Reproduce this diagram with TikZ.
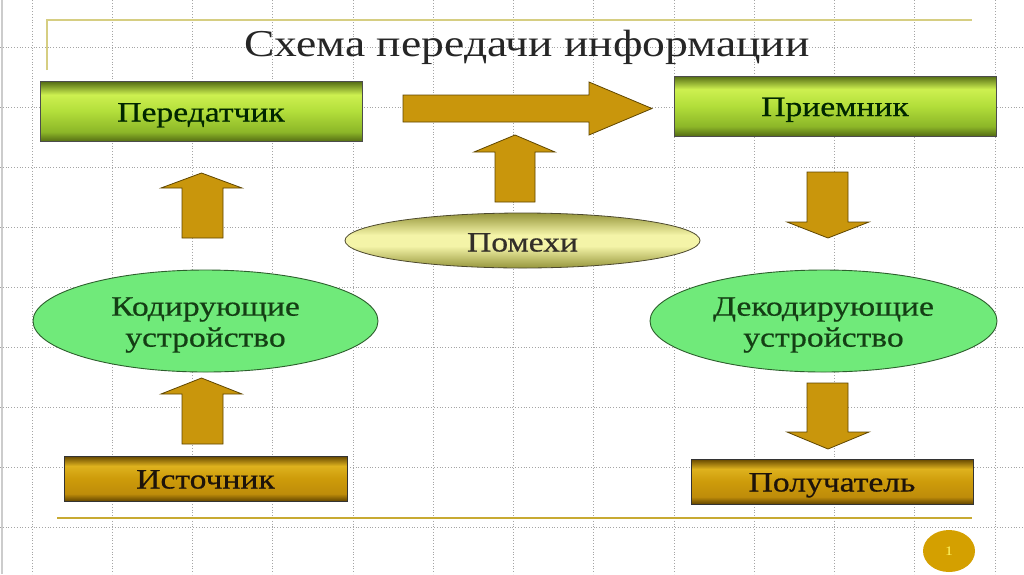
\documentclass[tikz,border=0pt]{standalone}
\usepackage{fontspec}
\setmainfont{Liberation Serif}[FakeStretch=1.2]
\newfontfamily\labelfam{Liberation Serif}[FakeStretch=1.2, FakeBold=0.6]
\usetikzlibrary{shapes.geometric}
\definecolor{gA}{RGB}{84,108,20}
\definecolor{gB}{RGB}{140,182,40}
\definecolor{gC}{RGB}{178,222,58}
\definecolor{gD}{RGB}{205,240,80}
\definecolor{oA}{RGB}{100,70,0}
\definecolor{oB}{RGB}{190,140,10}
\definecolor{oC}{RGB}{205,155,10}
\definecolor{oD}{RGB}{222,178,30}
\definecolor{arrowfill}{RGB}{201,150,12}
\definecolor{arrowdraw}{RGB}{95,70,0}
\definecolor{ellgreen}{RGB}{112,234,122}
\definecolor{ellborder}{RGB}{45,95,45}
\definecolor{elltext}{RGB}{20,62,20}
\definecolor{noiseA}{RGB}{150,150,60}
\definecolor{noiseB}{RGB}{244,244,168}
\definecolor{gridcol}{RGB}{165,165,165}
\definecolor{topline}{RGB}{214,206,130}
\definecolor{botline}{RGB}{200,170,50}
\definecolor{coin}{RGB}{212,160,0}
\pgfdeclareverticalshading{limebar}{100bp}{color(0bp)=(gA); color(25bp)=(gA); color(33bp)=(gB); color(50bp)=(gC); color(64bp)=(gD); color(75bp)=(gA); color(100bp)=(gA)}
\pgfdeclareverticalshading{goldbar}{100bp}{color(0bp)=(oA); color(25bp)=(oA); color(33bp)=(oB); color(50bp)=(oC); color(64bp)=(oD); color(75bp)=(oA); color(100bp)=(oA)}
\pgfdeclareverticalshading{noisebar}{100bp}{color(0bp)=(noiseA); color(25bp)=(noiseA); color(45bp)=(noiseB); color(55bp)=(noiseB); color(75bp)=(noiseA); color(100bp)=(noiseA)}
\tikzset{
  gridline/.style={gridcol, dotted, line width=0.8pt},
  labelfont/.style={font=\labelfam\fontsize{28}{32}\selectfont},
  limebox/.style={rectangle, draw=black!70, line width=0.8pt, shading=limebar, inner sep=0pt, text=black!85!green, labelfont, text height=20pt, text depth=0pt},
  goldbox/.style={rectangle, draw=black!80, line width=0.8pt, shading=goldbar, inner sep=0pt, text=black!85!brown, labelfont, text height=20pt, text depth=0pt},
  greenell/.style={ellipse, draw=ellborder, line width=0.9pt, fill=ellgreen, inner sep=0pt},
  elllabel/.style={align=center, text=elltext, labelfont, inner sep=0pt},
  noiseell/.style={ellipse, draw=black!60!olive, line width=0.8pt, shading=noisebar, inner sep=0pt, text=black!85!olive, labelfont, text height=22pt, text depth=0pt},
  blockarrow/.style={fill=arrowfill, draw=arrowdraw, line width=0.8pt, line join=miter}
}
\begin{document}
\begin{tikzpicture}[x=1pt,y=-1pt]
\useasboundingbox (0,0) rectangle (1024,574);
\fill[white] (0,0) rectangle (1024,574);
% grid
\foreach \k in {0,...,12} {
  \draw[gridline] ({32+80.25*\k},0) -- ({32+80.25*\k},574);
}
\foreach \k in {0,...,8} {
  \draw[gridline] (0,{47+60.1*\k}) -- (1024,{47+60.1*\k});
}
\draw[gray!40, line width=2.5pt] (2,0) -- (2,574);
% decorative lines
\draw[topline, line width=2pt] (47,70) -- (47,20) -- (972,20);
\draw[botline, line width=2pt] (57,518) -- (972,518);
% title
\node[anchor=base, font=\fontsize{38}{44}\selectfont, text=black!85] (title) at (527,56) {Схема передачи информации};
% boxes
\node[limebox, minimum width=322pt, minimum height=60pt] (tx) at (201,111.5) {Передатчик};
\node[limebox, minimum width=322pt, minimum height=60pt] (rx) at (835,106) {Приемник};
\node[goldbox, minimum width=283pt, minimum height=45pt] (src) at (205.5,478.5) {Источник};
\node[goldbox, minimum width=282pt, minimum height=45pt] (dst) at (832,481.5) {Получатель};
% ellipses
\node[greenell, minimum width=345pt, minimum height=102pt] (enc) at (205.5,321) {};
\node[elllabel] (enctext) at ([yshift=-4pt]enc.center) {Кодирующие\\[-1pt]устройство};
\node[greenell, minimum width=347pt, minimum height=102pt] (dec) at (823.5,321) {};
\node[elllabel] (dectext) at ([yshift=-4pt]dec.center) {Декодирующие\\[-1pt]устройство};
\node[noiseell, minimum width=355pt, minimum height=55pt] (noise) at (522.5,240.5) {Помехи};
% block arrows
\draw[blockarrow] (403,95) -- (589,95) -- (589,82) -- (652,108.5) -- (589,135) -- (589,122) -- (403,122) -- cycle;
\draw[blockarrow] (495,202) -- (495,152) -- (474,152) -- (515,135) -- (555,152) -- (535,152) -- (535,202) -- cycle;
\draw[blockarrow] (182,238) -- (182,188) -- (161,188) -- (201.5,173) -- (242,188) -- (223,188) -- (223,238) -- cycle;
\draw[blockarrow] (182,444) -- (182,394) -- (161,394) -- (201.5,378) -- (242,394) -- (223,394) -- (223,444) -- cycle;
\draw[blockarrow] (807,172) -- (848,172) -- (848,222) -- (869,222) -- (828,238) -- (787,222) -- (807,222) -- cycle;
\draw[blockarrow] (807,383) -- (848,383) -- (848,432) -- (869,432) -- (828,449) -- (787,432) -- (807,432) -- cycle;
% page number
\node[ellipse, fill=coin, minimum width=52pt, minimum height=42pt, inner sep=0pt, text=yellow!60, font=\fontsize{13}{15}\selectfont] (page) at (949,551) {1};
\end{tikzpicture}
\end{document}
